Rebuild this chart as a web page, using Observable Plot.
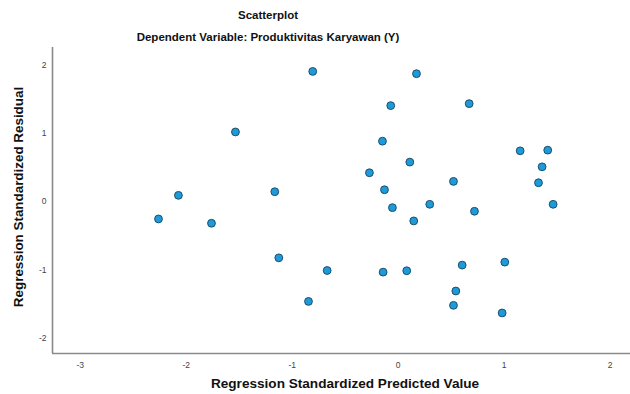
<!DOCTYPE html>
<html>
<head>
<meta charset="utf-8">
<script src="https://cdn.jsdelivr.net/npm/d3@7"></script>
<script src="https://cdn.jsdelivr.net/npm/@observablehq/plot@0.6"></script>
<style>
  html, body { margin: 0; padding: 0; background: #fff; }
  #wrap { position: relative; width: 630px; height: 394px; overflow: hidden; font-family: "Liberation Sans", Arial, sans-serif; }
  .t { position: absolute; z-index: 2; font-weight: bold; color: #111; white-space: nowrap; transform: translate(-50%, -50%); }
  #chart { position: absolute; z-index: 1; left: 0; top: 46px; }
</style>
</head>
<body>
<div id="wrap">
  <div class="t" id="title" style="left:268px; top:15px; font-size:11.5px;">Scatterplot</div>
  <div class="t" id="subtitle" style="left:268px; top:37px; font-size:11.5px;">Dependent Variable: Produktivitas Karyawan (Y)</div>
  <div class="t" id="xlabel" style="left:345px; top:383px; font-size:13.6px;">Regression Standardized Predicted Value</div>
  <div class="t" id="ylabel" style="left:18px; top:197px; font-size:13.4px; transform: translate(-50%, -50%) rotate(-90deg);">Regression Standardized Residual</div>
  <div id="chart"></div>
</div>
<script>
const predicted = [-0.806, -1.535, -2.073, -1.164, 0.173, -0.070, 0.670, -0.148, 1.151, 1.411, 0.110,
  1.358, -0.271, 0.522, 1.324, -0.129, -0.054, 0.298, 0.720, 1.462, 0.147, -0.670, -0.142, 0.081,
  0.604, 1.006, 0.544, 0.522, 0.981, -2.261, -1.761, -1.126, -0.846];
const residual = [1.905, 1.020, 0.093, 0.146, 1.872, 1.405, 1.434, 0.885, 0.744, 0.754, 0.579,
  0.510, 0.423, 0.297, 0.277, 0.175, -0.087, -0.038, -0.140, -0.038, -0.281, -1.006, -1.030, -1.010,
  -0.927, -0.884, -1.306, -1.516, -1.627, -0.252, -0.315, -0.821, -1.458];
const xTicks = [-3, -2, -1, 0, 1, 2];
const yTicks = [-2, -1, 0, 1, 2];
const xDomain = [-3.261, 2.192];
const yDomain = [-2.22, 2.255];

const data = predicted.map((x, i) => ({x, y: residual[i]}));

const chart = Plot.plot({
  width: 630,
  height: 348,
  marginLeft: 52,
  marginRight: 0,
  marginTop: 1,
  marginBottom: 41,
  style: {fontFamily: "'Liberation Sans', Arial, sans-serif", background: "transparent"},
  x: {domain: xDomain},
  y: {domain: yDomain},
  marks: [
    Plot.axisX({ticks: xTicks, tickSize: 0, tickPadding: 8, fontSize: 8.5, color: "#444", label: null, tickFormat: d => d < 0 ? "-" + Math.abs(d) : String(d)}),
    Plot.axisY({ticks: yTicks, tickSize: 0, tickPadding: 6, fontSize: 8.5, color: "#444", label: null, tickFormat: d => d < 0 ? "-" + Math.abs(d) : String(d)}),
    Plot.ruleX([xDomain[0]], {stroke: "#8a8a8a", strokeWidth: 1.6}),
    Plot.ruleY([yDomain[0]], {stroke: "#8a8a8a", strokeWidth: 1.6}),
    Plot.dot(data, {x: "x", y: "y", r: 3.9, fill: "#1e9ad8", stroke: "#1b4f6e", strokeWidth: 1})
  ]
});
document.getElementById("chart").appendChild(chart);
</script>
</body>
</html>
